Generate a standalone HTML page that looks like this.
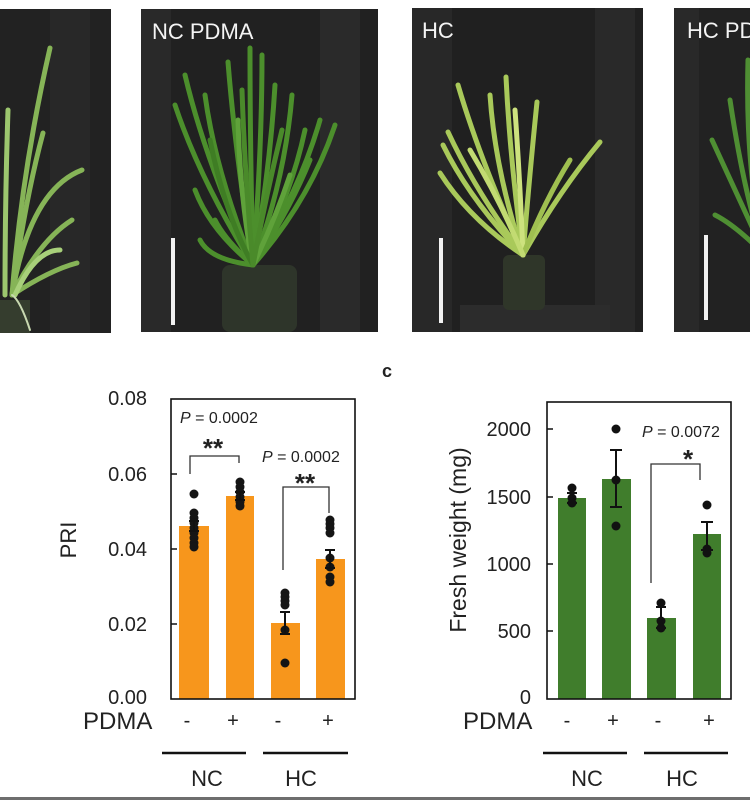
<!DOCTYPE html>
<html><head><meta charset="utf-8"><style>
html,body{margin:0;padding:0;background:#fff;}
svg{display:block;}
text{font-family:"Liberation Sans",Arial,sans-serif;}
</style></head><body>
<svg width="750" height="800" viewBox="0 0 750 800" xmlns="http://www.w3.org/2000/svg">
<defs>
<clipPath id="c1"><rect x="0" y="9" width="111" height="324"/></clipPath>
<clipPath id="c2"><rect x="141" y="9" width="237" height="323"/></clipPath>
<clipPath id="c3"><rect x="412" y="8" width="231" height="324"/></clipPath>
<clipPath id="c4"><rect x="674" y="8" width="76" height="324"/></clipPath>
</defs>
<rect width="750" height="800" fill="#fff"/>

<!-- Panel 1 -->
<g clip-path="url(#c1)">
<rect x="0" y="9" width="111" height="324" fill="#222"/>
<rect x="50" y="9" width="40" height="324" fill="#282828"/>
<rect x="0" y="300" width="30" height="33" fill="#353d2e"/>
<g fill="none" stroke-linecap="round" stroke="#86b457" stroke-width="5">
<path d="M12,295 Q22,170 50,48"/>
<path d="M12,295 Q30,190 82,170"/>
<path d="M12,295 Q40,240 72,220"/>
<path d="M12,295 Q50,270 77,263"/>
<path d="M12,295 Q25,200 43,133"/>
<path d="M5,295 Q5,200 8,110" stroke="#9cc66e"/>
<path d="M15,295 Q35,250 60,250" stroke="#a8d07a"/>
<path d="M12,295 Q20,300 30,330" stroke="#c8d8b0" stroke-width="2"/>
</g>
</g>

<!-- Panel 2 -->
<g clip-path="url(#c2)">
<rect x="141" y="9" width="237" height="323" fill="#212121"/>
<rect x="141" y="9" width="30" height="323" fill="#292929"/>
<rect x="320" y="9" width="40" height="323" fill="#2a2a2a"/>
<rect x="222" y="265" width="75" height="67" fill="#2e352a" rx="8"/>
<g fill="none" stroke-linecap="round" stroke="#4c8f2c" stroke-width="5">
<path d="M253,265 Q200,180 175,105"/>
<path d="M253,265 Q205,160 185,75"/>
<path d="M253,265 Q215,170 205,95"/>
<path d="M253,265 Q235,150 228,62"/>
<path d="M253,265 Q250,150 250,48"/>
<path d="M253,265 Q262,150 262,55"/>
<path d="M253,265 Q270,170 275,85"/>
<path d="M253,265 Q285,180 292,95"/>
<path d="M253,265 Q290,200 305,130"/>
<path d="M253,265 Q300,190 320,120"/>
<path d="M253,265 Q310,200 335,125"/>
<path d="M253,265 Q290,210 310,160"/>
<path d="M253,265 Q210,230 195,190"/>
<path d="M253,265 Q210,260 200,240"/>
<path d="M253,265 Q225,240 215,220"/>
<path d="M253,265 Q240,200 238,120" stroke="#5fa23a"/>
<path d="M253,265 Q275,220 290,175" stroke="#5fa23a"/>
<path d="M253,265 Q225,215 210,140" stroke="#3f7d24"/>
<path d="M253,265 Q245,180 242,90" stroke="#4a8a2a"/>
<path d="M253,265 Q265,200 282,130" stroke="#4a8a2a"/>
</g>
<rect x="171" y="238" width="4" height="87" fill="#f2f2f2"/>
<text x="152" y="39" font-size="22" fill="#f4f4f4">NC PDMA</text>
</g>

<!-- Panel 3 -->
<g clip-path="url(#c3)">
<rect x="412" y="8" width="231" height="324" fill="#202020"/>
<rect x="412" y="8" width="40" height="324" fill="#282828"/>
<rect x="595" y="8" width="40" height="324" fill="#292929"/>
<rect x="460" y="305" width="150" height="27" fill="#2c2c2c"/>
<rect x="503" y="255" width="42" height="55" fill="#2f3629" rx="6"/>
<g fill="none" stroke-linecap="round" stroke="#a9c95a" stroke-width="5">
<path d="M523,255 Q480,160 458,85"/>
<path d="M523,255 Q510,160 506,77"/>
<path d="M523,255 Q495,170 490,95"/>
<path d="M523,255 Q530,170 537,102"/>
<path d="M523,255 Q560,190 600,142"/>
<path d="M523,255 Q470,200 443,145"/>
<path d="M523,255 Q470,220 440,173"/>
<path d="M523,255 Q475,190 448,132"/>
<path d="M523,255 Q520,180 515,110" stroke="#cde27e"/>
<path d="M523,255 Q545,200 570,160" stroke="#9fbf50"/>
<path d="M523,255 Q500,200 470,150" stroke="#c2db72"/>
</g>
<rect x="439" y="238" width="4" height="85" fill="#f2f2f2"/>
<text x="422" y="38" font-size="22" fill="#f4f4f4">HC</text>
</g>

<!-- Panel 4 -->
<g clip-path="url(#c4)">
<rect x="674" y="8" width="76" height="324" fill="#222"/>
<rect x="674" y="8" width="25" height="324" fill="#292929"/>
<g fill="none" stroke-linecap="round" stroke="#4f8f33" stroke-width="5">
<path d="M765,255 Q745,170 748,60"/>
<path d="M765,255 Q735,190 712,140"/>
<path d="M765,255 Q735,225 715,215"/>
<path d="M765,255 Q745,200 730,100"/>
</g>
<rect x="704" y="235" width="4" height="85" fill="#f2f2f2"/>
<text x="687" y="38" font-size="22" fill="#f4f4f4">HC PDMA</text>
</g>

<!-- c label -->
<text x="382" y="377" font-size="18" font-weight="bold" fill="#222">c</text>

<!-- ===== Chart 1 (PRI) ===== -->
<g>
<rect x="179" y="526" width="30" height="173" fill="#f7961c"/>
<rect x="226" y="496" width="28" height="203" fill="#f7961c"/>
<rect x="271" y="623" width="29" height="76" fill="#f7961c"/>
<rect x="316" y="559" width="29" height="140" fill="#f7961c"/>
<g fill="#151515">
<circle cx="194" cy="494" r="4.5"/>
<circle cx="194" cy="513" r="4.5"/><circle cx="194" cy="518" r="4.5"/><circle cx="194" cy="523" r="4.5"/>
<circle cx="194" cy="528" r="4.5"/><circle cx="194" cy="533" r="4.5"/><circle cx="194" cy="538" r="4.5"/>
<circle cx="194" cy="543" r="4.5"/><circle cx="194" cy="547" r="4.5"/>
<circle cx="240" cy="482" r="4.5"/><circle cx="240" cy="487" r="4.5"/><circle cx="240" cy="492" r="4.5"/>
<circle cx="240" cy="497" r="4.5"/><circle cx="240" cy="502" r="4.5"/><circle cx="240" cy="506" r="4.5"/>
<circle cx="285" cy="593" r="4.5"/><circle cx="285" cy="597" r="4.5"/><circle cx="285" cy="601" r="4.5"/><circle cx="285" cy="605" r="4.5"/>
<circle cx="285" cy="630" r="4.5"/><circle cx="285" cy="663" r="4.5"/>
<circle cx="330" cy="520" r="4.5"/><circle cx="330" cy="524" r="4.5"/><circle cx="330" cy="528" r="4.5"/><circle cx="330" cy="533" r="4.5"/>
<circle cx="330" cy="558" r="4.5"/><circle cx="330" cy="567" r="4.5"/>
<circle cx="330" cy="577" r="4.5"/><circle cx="330" cy="582" r="4.5"/>
</g>
<g stroke="#111" stroke-width="2" fill="none">
<path d="M194,521 V531 M189,521 H199 M189,531 H199"/>
<path d="M240,492 V500 M235,492 H245 M235,500 H245"/>
<path d="M285,612 V634 M280,612 H290 M280,634 H290"/>
<path d="M330,550 V568 M325,550 H335 M325,568 H335"/>
</g>
<rect x="171" y="399" width="184" height="300" fill="none" stroke="#111" stroke-width="1.6"/>
<g stroke="#111" stroke-width="1.5">
<path d="M171,474 H177 M171,549 H177 M171,624 H177"/>
</g>
<g font-size="20" fill="#222" text-anchor="end">
<text x="147" y="405">0.08</text>
<text x="147" y="481">0.06</text>
<text x="147" y="556">0.04</text>
<text x="147" y="631">0.02</text>
<text x="147" y="704">0.00</text>
</g>
<text transform="translate(76,540) rotate(-90)" font-size="22" text-anchor="middle" fill="#222">PRI</text>
<!-- significance -->
<text x="180" y="423" font-size="16" fill="#222"><tspan font-style="italic">P</tspan> = 0.0002</text>
<text x="213" y="457" font-size="26" font-weight="bold" text-anchor="middle" fill="#222">**</text>
<path d="M190,474 V456 H239 V463" fill="none" stroke="#333" stroke-width="1.3"/>
<text x="262" y="462" font-size="16" fill="#222"><tspan font-style="italic">P</tspan> = 0.0002</text>
<text x="305" y="492" font-size="26" font-weight="bold" text-anchor="middle" fill="#222">**</text>
<path d="M283,570 V487 H329 V513" fill="none" stroke="#333" stroke-width="1.3"/>
<!-- x labels -->
<text x="83" y="729" font-size="24" fill="#222">PDMA</text>
<g font-size="20" fill="#222" text-anchor="middle">
<text x="187" y="727">-</text>
<text x="233" y="727">+</text>
<text x="278" y="727">-</text>
<text x="328" y="727">+</text>
</g>
<path d="M162,753 H246 M263,753 H348" stroke="#111" stroke-width="2.5"/>
<text x="207" y="786" font-size="22" text-anchor="middle" fill="#222">NC</text>
<text x="301" y="786" font-size="22" text-anchor="middle" fill="#222">HC</text>
</g>

<!-- ===== Chart 2 (Fresh weight) ===== -->
<g>
<rect x="558" y="498" width="28" height="201" fill="#407d2c"/>
<rect x="602" y="479" width="29" height="220" fill="#407d2c"/>
<rect x="647" y="618" width="29" height="81" fill="#407d2c"/>
<rect x="693" y="534" width="28" height="165" fill="#407d2c"/>
<g fill="#111">
<circle cx="572" cy="488" r="4.5"/><circle cx="572" cy="498" r="4.5"/><circle cx="572" cy="503" r="4.5"/>
<circle cx="616" cy="429" r="4.5"/><circle cx="616" cy="480" r="4.5"/><circle cx="616" cy="526" r="4.5"/>
<circle cx="661" cy="603" r="4.5"/><circle cx="661" cy="621" r="4.5"/><circle cx="661" cy="628" r="4.5"/>
<circle cx="707" cy="505" r="4.5"/><circle cx="707" cy="549" r="4.5"/><circle cx="707" cy="553" r="4.5"/>
</g>
<g stroke="#111" stroke-width="2" fill="none">
<path d="M572,493 V503 M567,493 H577 M567,503 H577"/>
<path d="M616,450 V507 M610,450 H622 M610,507 H622"/>
<path d="M661,607 V628 M656,607 H666 M656,628 H666"/>
<path d="M707,522 V550 M701,522 H713 M701,550 H713"/>
</g>
<rect x="547" y="402" width="184" height="297" fill="none" stroke="#111" stroke-width="1.6"/>
<g stroke="#111" stroke-width="1.5">
<path d="M547,429 H553 M547,497 H553 M547,564 H553 M547,631 H553"/>
</g>
<g font-size="20" fill="#222" text-anchor="end">
<text x="531" y="436">2000</text>
<text x="531" y="504">1500</text>
<text x="531" y="571">1000</text>
<text x="531" y="638">500</text>
<text x="531" y="704">0</text>
</g>
<text transform="translate(466,540) rotate(-90)" font-size="23" text-anchor="middle" fill="#222">Fresh weight (mg)</text>
<text x="642" y="437" font-size="16" fill="#222"><tspan font-style="italic">P</tspan> = 0.0072</text>
<text x="688" y="468" font-size="26" font-weight="bold" text-anchor="middle" fill="#222">*</text>
<path d="M651,583 V464 H700 V480" fill="none" stroke="#333" stroke-width="1.3"/>
<text x="463" y="729" font-size="24" fill="#222">PDMA</text>
<g font-size="20" fill="#222" text-anchor="middle">
<text x="567" y="727">-</text>
<text x="613" y="727">+</text>
<text x="658" y="727">-</text>
<text x="709" y="727">+</text>
</g>
<path d="M543,753 H627 M644,753 H728" stroke="#111" stroke-width="2.5"/>
<text x="587" y="786" font-size="22" text-anchor="middle" fill="#222">NC</text>
<text x="682" y="786" font-size="22" text-anchor="middle" fill="#222">HC</text>
</g>

<!-- bottom border -->
<rect x="0" y="797" width="750" height="3" fill="#6e6e6e"/>
</svg>
</body></html>
